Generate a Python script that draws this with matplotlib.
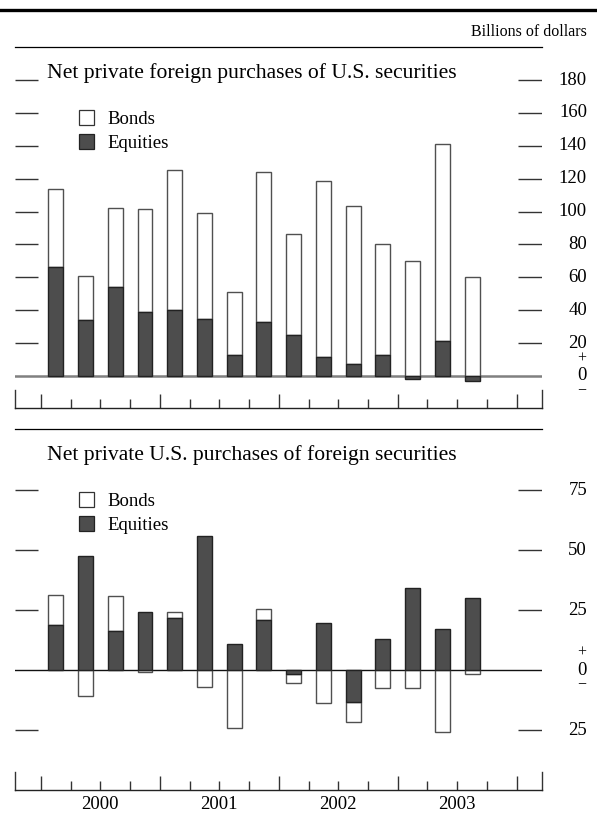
import numpy as np
import matplotlib
matplotlib.use("Agg")
import matplotlib.pyplot as plt
from matplotlib.lines import Line2D
from matplotlib.patches import Patch
import matplotlib.transforms as mtransforms

plt.rcParams['font.family'] = ['Liberation Serif', 'DejaVu Serif']

# ---------------- data ----------------
quarters = ['2000Q1', '2000Q2', '2000Q3', '2000Q4',
            '2001Q1', '2001Q2', '2001Q3', '2001Q4',
            '2002Q1', '2002Q2', '2002Q3', '2002Q4',
            '2003Q1', '2003Q2', '2003Q3']
years = ['2000', '2001', '2002', '2003']

# Net private foreign purchases of U.S. securities (billions of dollars)
top_equities = [66, 34, 54, 39, 40, 34.5, 12.5, 33, 25, 11.5, 7.5, 12.5, -2, 21, -3]
top_bonds = [48, 27, 48, 62.5, 85.5, 64.5, 38.5, 91, 61.5, 107, 96, 67.5, 70, 120, 60]

# Net private U.S. purchases of foreign securities (billions of dollars)
bot_equities = [18.8, 47.4, 16.4, 24.2, 21.5, 55.8, 10.7, 21.0, -1.8, 19.4,
                -13.2, 13.1, 34.3, 16.9, 30.0]
bot_bonds = [12.4, -10.8, 14.4, -1.0, 2.5, -7.1, -24.3, 4.3, -3.8, -13.9,
             -8.6, -7.6, -7.4, -26.0, -1.5]

top_ticks = [20, 40, 60, 80, 100, 120, 140, 160, 180]
top_tick_labels = ['20', '40', '60', '80', '100', '120', '140', '160', '180']
bot_ticks = [75, 50, 25, -25]
bot_tick_labels = ['75', '50', '25', '25']

# ---------------- layout ----------------
W, H = 597, 813
fig = plt.figure(figsize=(W / 100, H / 100), dpi=100)


def fx(px):
    return px / W


def fy(py):
    return 1 - py / H


L, R = 15, 542
FS = 13.5
TITLE_FS = 15.6
EQ_COLOR = '#4d4d4d'
TICK_COLOR = '#333333'


def make_axes(top_px, bottom_px):
    return fig.add_axes([fx(L), fy(bottom_px), (R - L) / W, (bottom_px - top_px) / H])


ax1 = make_axes(47, 408)
ax2 = make_axes(429, 790)
ax1.set_ylim(-19.46, 200.07)
ax2.set_ylim(-50, 100.42)


def draw_panel(ax, eq, bd, ticks, labels, zero_color, zero_lw, show_years):
    eq = np.asarray(eq, dtype=float)
    bd = np.asarray(bd, dtype=float)
    x = np.arange(len(eq)) + 0.5
    bottom_b = np.where(np.sign(bd) == np.sign(eq), eq, 0.0)
    ax.axhline(0, color=zero_color, lw=zero_lw, zorder=1)
    ax.bar(x, bd, 0.5, bottom=bottom_b, color='white', edgecolor='#505050',
           lw=1.0, zorder=2)
    ax.bar(x, eq, 0.5, color=EQ_COLOR, edgecolor='#222222', lw=1.0, zorder=3)

    ax.set_xlim(-0.87, 16.85)
    for s in ['left', 'right', 'top']:
        ax.spines[s].set_visible(False)
    ax.spines['bottom'].set_linewidth(1.0)
    ax.spines['bottom'].set_color('#222222')
    ax.set_yticks([])

    # year boundaries (major) and quarters (minor)
    ax.set_xticks([0, 4, 8, 12, 16])
    minor = [q for q in range(1, 16) if q % 4]
    ax.set_xticks(minor, minor=True)
    ax.tick_params(axis='x', which='major', direction='in', length=10.1,
                   width=1.0, color=TICK_COLOR, labelbottom=False)
    ax.tick_params(axis='x', which='minor', direction='in', length=6.5,
                   width=1.0, color=TICK_COLOR, labelsize=FS, pad=4.5)
    if show_years:
        ax.set_xticklabels([years[q // 4] if q % 4 == 2 else '' for q in minor],
                           minor=True)
    else:
        ax.set_xticklabels(['' for q in minor], minor=True)
    h = ax.get_position().height * H
    for xe in ax.get_xlim():
        ax.axvline(xe, ymin=0, ymax=18 / h, color=TICK_COLOR, lw=1.0, clip_on=False)

    # y ticks both sides as short dashes
    trans = mtransforms.blended_transform_factory(ax.transAxes, ax.transData)
    w = R - L
    ax.hlines(ticks, 0, 23 / w, transform=trans, color=TICK_COLOR, lw=1.0)
    ax.hlines(ticks, (518 - L) / w, 1, transform=trans, color=TICK_COLOR, lw=1.0)
    for v, lab in zip(ticks, labels):
        ax.text((587 - L) / w, v, lab, transform=trans, ha='right', va='center',
                fontsize=FS)
    xz = (582 - L) / w
    ax.text(xz, 0, '0', transform=trans, ha='center', va='center', fontsize=FS)
    tp = mtransforms.offset_copy(trans, fig=fig, x=0, y=17, units='dots')
    tm = mtransforms.offset_copy(trans, fig=fig, x=0, y=-15, units='dots')
    ax.text(xz, 0, '+', transform=tp, ha='center', va='center', fontsize=FS - 2)
    ax.text(xz, 0, '\u2212', transform=tm, ha='center', va='center', fontsize=FS - 2)


draw_panel(ax1, top_equities, top_bonds, top_ticks, top_tick_labels,
           '#808080', 1.8, False)
draw_panel(ax2, bot_equities, bot_bonds, bot_ticks, bot_tick_labels,
           '#111111', 1.0, True)

# legends
for ax, top in [(ax1, 110.5), (ax2, 492.5)]:
    handles = [Patch(facecolor='white', edgecolor='#333333', lw=0.9, label='Bonds'),
               Patch(facecolor=EQ_COLOR, edgecolor='#222222', lw=0.9, label='Equities')]
    ax.legend(handles=handles, loc='upper left', bbox_to_anchor=(fx(79), fy(top)),
              bbox_transform=fig.transFigure, frameon=False, borderpad=0,
              borderaxespad=0, handlelength=0.8, handleheight=0.8,
              handletextpad=0.7, labelspacing=0.33, fontsize=FS)

# titles and rules
fig.text(fx(47), fy(78), 'Net private foreign purchases of U.S. securities',
         fontsize=TITLE_FS, ha='left', va='baseline')
fig.text(fx(47), fy(460), 'Net private U.S. purchases of foreign securities',
         fontsize=TITLE_FS, ha='left', va='baseline')
fig.text(fx(587), fy(32), 'Billions of dollars', fontsize=11.5, ha='right',
         va='center')

fig.add_artist(Line2D([0.0, 1.0], [fy(10), fy(10)], transform=fig.transFigure,
                      color='black', lw=2.4))
for yy in (47, 429):
    fig.add_artist(Line2D([fx(L), fx(R)], [fy(yy), fy(yy)], transform=fig.transFigure,
                          color='black', lw=0.9))

fig.savefig('out.png', dpi=100)
